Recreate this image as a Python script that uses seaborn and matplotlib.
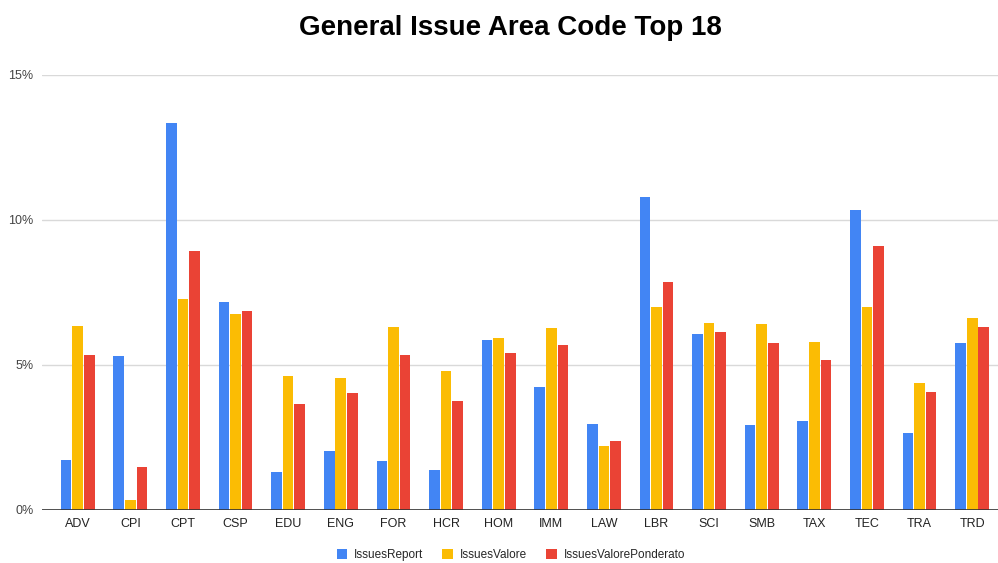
import matplotlib
matplotlib.use("Agg")
import matplotlib.pyplot as plt
import seaborn as sns
import pandas as pd
from matplotlib.ticker import FuncFormatter
from matplotlib.patches import Patch

codes = ["ADV", "CPI", "CPT", "CSP", "EDU", "ENG", "FOR", "HCR", "HOM",
         "IMM", "LAW", "LBR", "SCI", "SMB", "TAX", "TEC", "TRA", "TRD"]
issues_report = [1.71, 5.29, 13.33, 7.16, 1.30, 2.02, 1.68, 1.38, 5.86,
                 4.22, 2.94, 10.80, 6.07, 2.91, 3.06, 10.34, 2.64, 5.76]
issues_valore = [6.34, 0.34, 7.26, 6.75, 4.60, 4.53, 6.31, 4.77, 5.93,
                 6.28, 2.20, 6.99, 6.44, 6.40, 5.79, 6.99, 4.36, 6.61]
issues_valore_ponderato = [5.34, 1.47, 8.91, 6.86, 3.63, 4.02, 5.32, 3.75, 5.39,
                           5.67, 2.37, 7.85, 6.14, 5.76, 5.15, 9.08, 4.05, 6.31]
series_names = ["IssuesReport", "IssuesValore", "IssuesValorePonderato"]
colors = ["#4285F4", "#FBBC04", "#EA4335"]

df = pd.DataFrame({"code": codes,
                   series_names[0]: issues_report,
                   series_names[1]: issues_valore,
                   series_names[2]: issues_valore_ponderato})
long = df.melt(id_vars="code", var_name="series", value_name="pct")

sns.set_style("white")
plt.rcParams["font.family"] = ["Liberation Sans", "DejaVu Sans"]

fig = plt.figure(figsize=(9.98, 5.63), dpi=100)
ax = fig.add_axes([0.042, 1 - 509.7 / 563, 0.958, (509.7 - 74.7) / 563])

sns.barplot(data=long, x="code", y="pct", hue="series", order=codes,
            hue_order=series_names, palette=colors, width=0.66, gap=0.08,
            saturation=1, legend=False, ax=ax, zorder=3, linewidth=0)

ax.set_ylim(0, 15)
ax.set_xlim(-0.68, 17.49)
ax.set_yticks([0, 5, 10, 15])
ax.yaxis.set_major_formatter(FuncFormatter(lambda v, p: f"{v:.0f}%"))
ax.grid(axis="y", color="#d9d9d9", linewidth=1, zorder=0)
ax.axhline(0, color="#333333", linewidth=1.2, zorder=4)
for s in ax.spines.values():
    s.set_visible(False)
ax.tick_params(axis="y", length=0, labelsize=9, labelcolor="#444444", pad=6)
ax.tick_params(axis="x", length=0, labelsize=9, labelcolor="#222222", pad=6)
ax.set_xlabel("")
ax.set_ylabel("")

fig.text(0.511, 1 - 28 / 563, "General Issue Area Code Top 18",
         ha="center", va="center", fontsize=20, fontweight="bold", color="#000000")

handles = [Patch(facecolor=c, edgecolor="none") for c in colors]
fig.legend(handles, series_names, loc="center", bbox_to_anchor=(0.512, 1 - 555 / 563),
           ncol=3, frameon=False, fontsize=8.5, handlelength=0.9,
           handleheight=0.9, handletextpad=0.6, columnspacing=1.6)

fig.savefig("out.png", dpi=100, facecolor="white")
